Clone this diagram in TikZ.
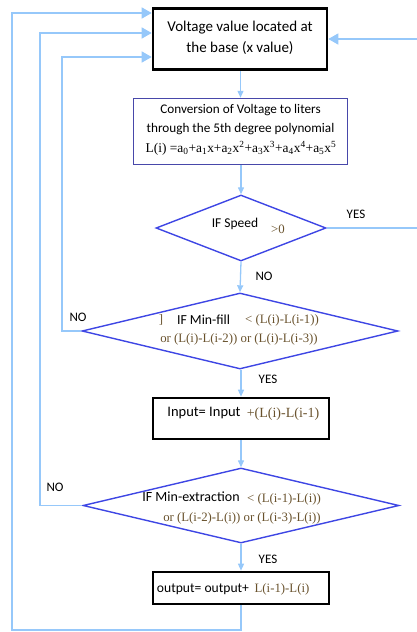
\documentclass[tikz,border=0pt]{standalone}
\usepackage{fontspec}
\setmainfont{Carlito}
\newfontfamily\tm{Liberation Serif}
\usetikzlibrary{shapes.geometric,arrows.meta}
\definecolor{conn}{RGB}{150,200,250}
\definecolor{dblue}{RGB}{62,70,228}
\definecolor{pblue}{RGB}{72,72,170}
\definecolor{brn}{RGB}{105,82,45}
\tikzset{
  thickbox/.style={draw=black,line width=2.6pt,rectangle,inner sep=0pt},
  purplebox/.style={draw=pblue,line width=1.5pt,rectangle,inner sep=0pt},
  dia/.style={draw=dblue,line width=1.4pt,diamond,inner sep=0pt},
  txt/.style={inner sep=0pt,align=center,font=\fontsize{13.6}{20}\selectfont},
  fm/.style={inner sep=0pt,font=\tm\fontsize{12.8}{14}\selectfont,text=brn},
  lbl/.style={inner sep=0pt,font=\fontsize{13}{14}\selectfont},
  flow/.style={draw=conn,line width=1.3pt,-{Triangle[length=7pt,width=6pt]}},
  bigflow/.style={draw=conn,line width=1.3pt,-{Triangle[length=10pt,width=11pt]}}
}
\begin{document}
\begin{tikzpicture}[x=1pt,y=-1pt]
\useasboundingbox (0,0) rectangle (416,632);
% boxes
\node[thickbox,minimum width=174,minimum height=61] (b1) at (240,39) {};
\node[txt,font=\fontsize{15}{21}\selectfont] (t1) at (240,38) {Voltage value located at\\the base (x value)};
\node[purplebox,minimum width=214,minimum height=66] (b2) at (240.5,131.5) {};
\node[txt,font=\fontsize{13.2}{19.5}\selectfont] (t2) at (240.5,119.5) {Conversion of Voltage to liters\\through the 5th degree polynomial};
\node[inner sep=0pt,font=\tm\fontsize{13.4}{14}\selectfont] (f2) at (241,148) {L(i) =a\textsubscript{0}+a\textsubscript{1}x+a\textsubscript{2}x\textsuperscript{2}+a\textsubscript{3}x\textsuperscript{3}+a\textsubscript{4}x\textsuperscript{4}+a\textsubscript{5}x\textsuperscript{5}};
% diamond 1
\node[dia,minimum width=170,minimum height=66] (d1) at (241,228) {};
\node[txt,font=\fontsize{13.5}{20}\selectfont] (t3a) at (235,224) {IF Speed};
\node[fm] (t3b) at (278,229) {>0};
% diamond 2
\node[dia,minimum width=316,minimum height=76] (d2) at (240,331) {};
\node[fm] (t4z) at (161,320) {]};
\node[txt,font=\fontsize{13.8}{20}\selectfont] (t4a) at (203.5,320) {IF Min-fill};
\node[fm] (t4b) at (282,320) {< (L(i)-L(i-1))};
\node[fm] (t4c) at (239,339) {or (L(i)-L(i-2)) or (L(i)-L(i-3))};
% box 3
\node[thickbox,minimum width=176,minimum height=41] (b3) at (241,418.5) {};
\node[txt,font=\fontsize{14.5}{20}\selectfont] (t5a) at (204,413) {Input= Input};
\node[fm,font=\tm\fontsize{14}{16}\selectfont] (t5b) at (283,414) {+(L(i)-L(i-1)};
% diamond 3
\node[dia,minimum width=316,minimum height=75] (d3) at (241,505.5) {};
\node[txt,font=\fontsize{14}{20}\selectfont] (t6a) at (191,497) {IF Min-extraction};
\node[fm] (t6b) at (284,499) {< (L(i-1)-L(i))};
\node[fm] (t6c) at (242,518) {or (L(i-2)-L(i)) or (L(i-3)-L(i))};
% box 4
\node[thickbox,minimum width=176,minimum height=32] (b4) at (241,588) {};
\node[txt] (t7a) at (203,589) {output= output+};
\node[fm] (t7b) at (282,589) {L(i-1)-L(i)};
% labels
\node[lbl] (y1) at (356,214) {YES};
\node[lbl] (n1) at (264,276) {NO};
\node[lbl] (n2) at (78,317) {NO};
\node[lbl] (y2) at (268,379) {YES};
\node[lbl] (n3) at (55,487) {NO};
\node[lbl] (y3) at (268,559) {YES};
% coordinates
\coordinate (r1) at (422,228);
\coordinate (l3) at (62,331);
\coordinate (l2) at (40,505.5);
\coordinate (bot) at (241,630);
\coordinate (l1) at (12,630);
% connectors
\draw[flow] (b1.south -| b2.north) -- (b2.north);
\draw[flow] (b2.south -| d1.north) -- (d1.north);
\draw[flow] (d1.south) -- (d2.north);
\draw[flow] (d2.south -| b3.north) -- (b3.north);
\draw[flow] (b3.south) -- (d3.north);
\draw[flow] (d3.south) -- (b4.north);
\draw[bigflow] (d1.east) -- (r1) |- (b1.east);
\draw[bigflow] (d2.west) -- (l3) -- (62,57) -- (b1.west |- 0,57);
\draw[bigflow] (d3.west) -- (l2) -- (40,33) -- (b1.west |- 0,33);
\draw[bigflow] (b4.south) -- (bot) -- (l1) -- (12,13) -- (b1.west |- 0,13);
\end{tikzpicture}
\end{document}
